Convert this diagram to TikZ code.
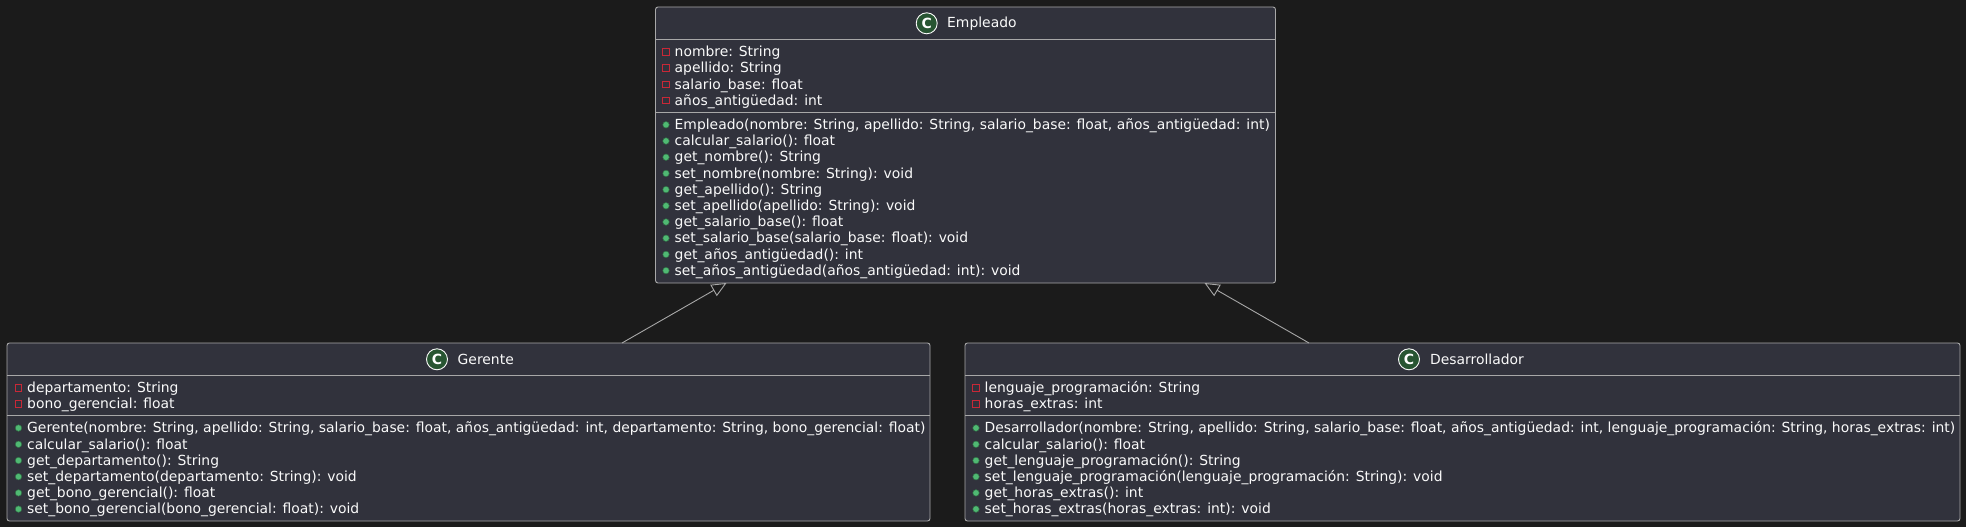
\documentclass[tikz,border=0pt]{standalone}
\usepackage{fontspec}
\setmainfont{DejaVu Sans}
\usetikzlibrary{arrows.meta,calc}
\definecolor{pageDark}{RGB}{27,27,27}
\definecolor{classFill}{RGB}{49,50,60}
\definecolor{edgeGray}{RGB}{168,168,168}
\definecolor{textLight}{RGB}{250,250,250}
\definecolor{privRed}{RGB}{200,40,55}
\definecolor{pubGreen}{RGB}{80,185,115}
\definecolor{spotGreen}{RGB}{40,85,50}
\tikzset{
  classbox/.style={draw=edgeGray, fill=classFill, rounded corners=2.5pt, line width=0.9pt, inner sep=0pt, outer sep=0pt},
  divider/.style={draw=edgeGray, line width=0.9pt},
  classname/.style={text=textLight, anchor=base west, inner sep=0pt, font=\fontsize{13.9}{16}\selectfont},
  member/.style={text=textLight, anchor=base west, inner sep=0pt, font=\fontsize{13.9}{16}\selectfont},
  spot/.style={circle, draw=textLight, fill=spotGreen, line width=0.9pt, minimum size=21pt, inner sep=0pt, text=white, font=\bfseries\fontsize{14}{16}\selectfont},
  privmark/.style={draw=privRed, line width=1pt, minimum size=6.5pt, inner sep=0pt},
  pubmark/.style={circle, fill=pubGreen, draw=pubGreen!60!black, line width=0.5pt, minimum size=6.5pt, inner sep=0pt},
  inherit/.style={draw=edgeGray, line width=0.9pt, -{Triangle[open, length=15pt, width=13pt, fill=pageDark]}}
}
\newcommand{\attrow}[4]{%
  \node[privmark] (#1m) at (#2-8.5,#3+4.7) {};
  \node[member] (#1) at (#2,#3) {#4};}
\newcommand{\oprow}[4]{%
  \node[pubmark] (#1m) at (#2-8.5,#3+4.7) {};
  \node[member] (#1) at (#2,#3) {#4};}
\begin{document}
\begin{tikzpicture}[x=1pt,y=1pt]
  \useasboundingbox (0,0) rectangle (1966,-527);
  \fill[pageDark] (0,0) rectangle (1966,-527);

  \node[classbox, minimum width=620pt, minimum height=276pt] (empleado) at (965.5,-145) {};
  \node[classbox, minimum width=923pt, minimum height=178pt] (gerente) at (468.5,-432) {};
  \node[classbox, minimum width=995pt, minimum height=178pt] (desarrollador) at (1462.5,-432) {};

  \draw[divider] ($(empleado.north west)+(0,-32)$) -- ($(empleado.north east)+(0,-32)$);
  \draw[divider] ($(empleado.north west)+(0,-105)$) -- ($(empleado.north east)+(0,-105)$);
  \draw[divider] ($(gerente.north west)+(0,-32)$) -- ($(gerente.north east)+(0,-32)$);
  \draw[divider] ($(gerente.north west)+(0,-72)$) -- ($(gerente.north east)+(0,-72)$);
  \draw[divider] ($(desarrollador.north west)+(0,-32)$) -- ($(desarrollador.north east)+(0,-32)$);
  \draw[divider] ($(desarrollador.north west)+(0,-72)$) -- ($(desarrollador.north east)+(0,-72)$);

  \node[spot] (empspot) at (926.7,-23.3) {C};
  \node[classname] (empname) at (947,-28) {Empleado};
  \node[spot] (gerspot) at (437,-359.3) {C};
  \node[classname] (gername) at (457.5,-364) {Gerente};
  \node[spot] (desspot) at (1409,-359.3) {C};
  \node[classname] (desname) at (1430,-364) {Desarrollador};

  \attrow{e1}{674.5}{-56.7}{nombre: String}
  \attrow{e2}{674.5}{-72.7}{apellido: String}
  \attrow{e3}{674.5}{-89}{salario\_base: float}
  \attrow{e4}{674.5}{-105}{años\_antigüedad: int}
  \oprow{e5}{674.5}{-129.5}{Empleado(nombre: String, apellido: String, salario\_base: float, años\_antigüedad: int)}
  \oprow{e6}{674.5}{-145.7}{calcular\_salario(): float}
  \oprow{e7}{674.5}{-161.9}{get\_nombre(): String}
  \oprow{e8}{674.5}{-178.1}{set\_nombre(nombre: String): void}
  \oprow{e9}{674.5}{-194.3}{get\_apellido(): String}
  \oprow{e10}{674.5}{-210.5}{set\_apellido(apellido: String): void}
  \oprow{e11}{674.5}{-226.7}{get\_salario\_base(): float}
  \oprow{e12}{674.5}{-242.9}{set\_salario\_base(salario\_base: float): void}
  \oprow{e13}{674.5}{-259.1}{get\_años\_antigüedad(): int}
  \oprow{e14}{674.5}{-275.3}{set\_años\_antigüedad(años\_antigüedad: int): void}

  \attrow{g1}{27}{-392.5}{departamento: String}
  \attrow{g2}{27}{-408.5}{bono\_gerencial: float}
  \oprow{g3}{27}{-432.7}{Gerente(nombre: String, apellido: String, salario\_base: float, años\_antigüedad: int, departamento: String, bono\_gerencial: float)}
  \oprow{g4}{27}{-449}{calcular\_salario(): float}
  \oprow{g5}{27}{-465.2}{get\_departamento(): String}
  \oprow{g6}{27}{-481.4}{set\_departamento(departamento: String): void}
  \oprow{g7}{27}{-497.6}{get\_bono\_gerencial(): float}
  \oprow{g8}{27}{-513.8}{set\_bono\_gerencial(bono\_gerencial: float): void}

  \attrow{d1}{984.5}{-392.5}{lenguaje\_programación: String}
  \attrow{d2}{984.5}{-408.5}{horas\_extras: int}
  \oprow{d3}{984.5}{-432.7}{Desarrollador(nombre: String, apellido: String, salario\_base: float, años\_antigüedad: int, lenguaje\_programación: String, horas\_extras: int)}
  \oprow{d4}{984.5}{-449}{calcular\_salario(): float}
  \oprow{d5}{984.5}{-465.2}{get\_lenguaje\_programación(): String}
  \oprow{d6}{984.5}{-481.4}{set\_lenguaje\_programación(lenguaje\_programación: String): void}
  \oprow{d7}{984.5}{-497.6}{get\_horas\_extras(): int}
  \oprow{d8}{984.5}{-513.8}{set\_horas\_extras(horas\_extras: int): void}

  \draw[inherit] ([xshift=153.5pt]gerente.north) -- ([xshift=-239pt]empleado.south);
  \draw[inherit] ([xshift=-153.5pt]desarrollador.north) -- ([xshift=239pt]empleado.south);
\end{tikzpicture}
\end{document}
